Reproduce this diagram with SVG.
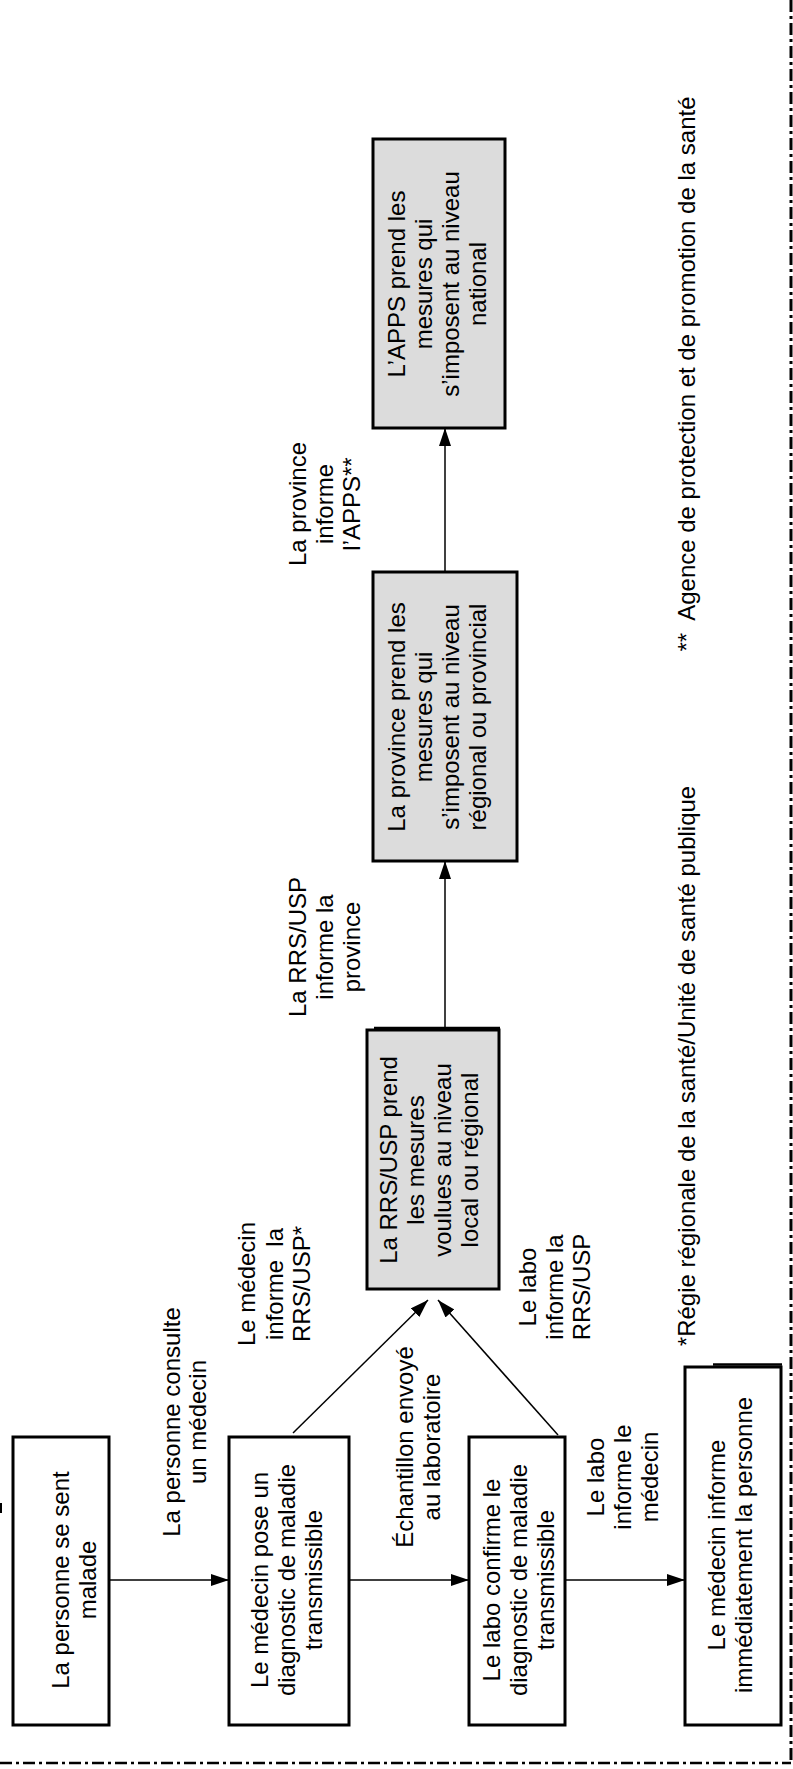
<svg xmlns="http://www.w3.org/2000/svg" width="793" height="1769" viewBox="0 0 793 1769">
<style>
text{font-family:"Liberation Sans",Arial,sans-serif;font-size:24px;fill:#000;text-anchor:middle}
.box{fill:#fff;stroke:#000;stroke-width:3}
.gbox{fill:#dcdcdc;stroke:#000;stroke-width:3}
.conn{stroke:#000;stroke-width:1.5;fill:none}
.border{stroke:#000;fill:none;stroke-dasharray:12 4 3 4}
</style>
<defs>
<marker id="ah" viewBox="0 0 18 12" refX="18" refY="6" markerWidth="18" markerHeight="12" markerUnits="userSpaceOnUse" orient="auto">
<path d="M0,0 L18,6 L0,12 z" fill="#000"/>
</marker>
</defs>
<g id="border">
<path class="border" d="M791,0 V1763" stroke-width="3"/>
<path class="border" d="M0,1763 H791" stroke-width="2.5"/>
<path d="M1,1503 V1513" stroke="#000" stroke-width="2"/>
</g>
<g id="connectors">
<path class="conn" marker-end="url(#ah)" d="M109,1580 H229"/>
<path class="conn" marker-end="url(#ah)" d="M349,1580 H469"/>
<path class="conn" marker-end="url(#ah)" d="M565,1580 H685"/>
<path class="conn" marker-end="url(#ah)" d="M293,1433 L428,1300"/>
<path class="conn" marker-end="url(#ah)" d="M558,1435 L438,1300"/>
<path class="conn" marker-end="url(#ah)" d="M445,1030 V861"/>
<path class="conn" marker-end="url(#ah)" d="M445,572 V428"/>
</g>
<g id="n1">
<rect class="box" x="13" y="1437" width="96" height="288"/>
<text transform="translate(0,1580) rotate(-90)"><tspan x="0" y="69">La personne se sent</tspan><tspan x="0" y="96">malade</tspan></text>
</g>
<g id="n2">
<rect class="box" x="229" y="1437" width="120" height="288"/>
<text transform="translate(0,1580) rotate(-90)"><tspan x="0" y="268">Le médecin pose un</tspan><tspan x="0" y="295">diagnostic de maladie</tspan><tspan x="0" y="322">transmissible</tspan></text>
</g>
<g id="n3">
<rect class="box" x="469" y="1437" width="96" height="288"/>
<text transform="translate(0,1580) rotate(-90)"><tspan x="0" y="500">Le labo confirme le</tspan><tspan x="0" y="527">diagnostic de maladie</tspan><tspan x="0" y="554">transmissible</tspan></text>
</g>
<g id="n4">
<rect class="box" x="685" y="1367" width="96" height="358"/>
<path d="M713,1364.5 H782" stroke="#000" stroke-width="2.5"/>
<text transform="translate(0,1545) rotate(-90)"><tspan x="0" y="725">Le médecin informe</tspan><tspan x="0" y="752">immédiatement la personne</tspan></text>
</g>
<g id="n5">
<rect class="gbox" x="367" y="1030" width="132" height="259"/>
<path d="M374,1028 H500" stroke="#000" stroke-width="2.5"/>
<text transform="translate(0,1160) rotate(-90)"><tspan x="0" y="397">La RRS/USP prend</tspan><tspan x="0" y="424">les mesures</tspan><tspan x="0" y="451">voulues au niveau</tspan><tspan x="0" y="478">local ou régional</tspan></text>
</g>
<g id="n6">
<rect class="gbox" x="373" y="572" width="144" height="289"/>
<text transform="translate(0,717) rotate(-90)"><tspan x="0" y="405">La province prend les</tspan><tspan x="0" y="432">mesures qui</tspan><tspan x="0" y="459">s’imposent au niveau</tspan><tspan x="0" y="486">régional ou provincial</tspan></text>
</g>
<g id="n7">
<rect class="gbox" x="373" y="139" width="132" height="289"/>
<text transform="translate(0,284) rotate(-90)"><tspan x="0" y="405">L’APPS prend les</tspan><tspan x="0" y="432">mesures qui</tspan><tspan x="0" y="459">s’imposent au niveau</tspan><tspan x="0" y="486">national</tspan></text>
</g>
<g id="labels">
<text transform="translate(0,1422) rotate(-90)"><tspan x="0" y="180">La personne consulte</tspan><tspan x="0" y="206">un médecin</tspan></text>
<text transform="translate(0,1447) rotate(-90)"><tspan x="0" y="413">Échantillon envoyé</tspan><tspan x="0" y="440">au laboratoire</tspan></text>
<text transform="translate(0,1477) rotate(-90)"><tspan x="0" y="604">Le labo</tspan><tspan x="0" y="631">informe le</tspan><tspan x="0" y="658">médecin</tspan></text>
<text xml:space="preserve" transform="translate(0,1284) rotate(-90)"><tspan x="0" y="255">Le médecin</tspan><tspan x="0" y="283">informe  la</tspan><tspan x="0" y="310">RRS/USP*</tspan></text>
<text transform="translate(0,1287) rotate(-90)"><tspan x="0" y="536">Le labo</tspan><tspan x="0" y="563">informe la</tspan><tspan x="0" y="590">RRS/USP</tspan></text>
<text transform="translate(0,947) rotate(-90)"><tspan x="0" y="306">La RRS/USP</tspan><tspan x="0" y="333">informe la</tspan><tspan x="0" y="360">province</tspan></text>
<text transform="translate(0,504) rotate(-90)"><tspan x="0" y="306">La province</tspan><tspan x="0" y="333">informe</tspan><tspan x="0" y="360">l’APPS**</tspan></text>
</g>
<g id="footnotes">
<text transform="translate(0,1066) rotate(-90)" x="0" y="695">*Régie régionale de la santé/Unité de santé publique</text>
<text xml:space="preserve" transform="translate(0,374) rotate(-90)" x="0" y="695">**  Agence de protection et de promotion de la santé</text>
</g>
</svg>
